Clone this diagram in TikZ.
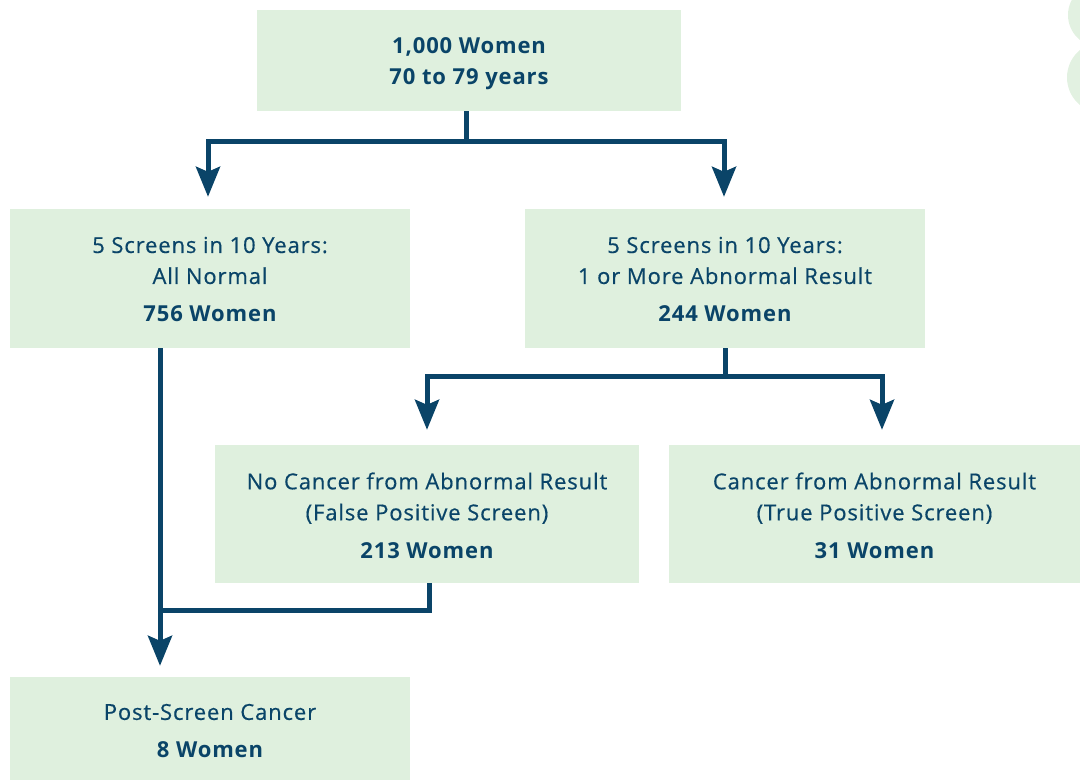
\documentclass[tikz,border=0pt]{standalone}
\usepackage{fontspec}
\setmainfont{Open Sans}[LetterSpace=4,UprightFeatures={FakeBold=0.5}]
\usetikzlibrary{arrows.meta}
\definecolor{boxfill}{RGB}{223,240,222}
\definecolor{deco}{RGB}{226,241,225}
\definecolor{ink}{RGB}{10,68,104}
\tikzset{
  box/.style={fill=boxfill, draw=none, inner sep=0pt},
  txt/.style={text=ink, align=center, inner sep=0pt,
    font=\fontsize{22}{31}\selectfont},
  conn/.style={draw=ink, line width=5pt},
  arr/.style={conn, -{Stealth[length=30pt,width=24pt,inset=5pt]}},
}
\begin{document}
\begin{tikzpicture}[x=1pt,y=-1pt]
\useasboundingbox (0,0) rectangle (1080,780);
\begin{scope}
\clip (0,0) rectangle (1080,780);
\fill[deco] (1100,15) circle (32);
\fill[deco] (1102.6,77.5) circle (35.6);
\end{scope}
\node[box, minimum width=424pt, minimum height=101pt,
  label={[txt, yshift=-3pt]center:{\bfseries 1,000 Women\\\bfseries 70 to 79 years}}] (top) at (469,60.5) {};
\node[box, minimum width=400pt, minimum height=139pt,
  label={[txt, yshift=-1pt]center:{5 Screens in 10 Years:\\All Normal\\[7pt]\bfseries 756 Women}}] (left) at (210,278.5) {};
\node[box, minimum width=400pt, minimum height=139pt,
  label={[txt, yshift=-1pt]center:{5 Screens in 10 Years:\\1 or More Abnormal Result\\[7pt]\bfseries 244 Women}}] (right) at (725,278.5) {};
\node[box, minimum width=424pt, minimum height=138pt,
  label={[txt, yshift=-1.5pt]center:{No Cancer from Abnormal Result\\(False Positive Screen)\\[7pt]\bfseries 213 Women}}] (midl) at (427,514) {};
\node[box, minimum width=411pt, minimum height=138pt,
  label={[txt, yshift=-1.5pt]center:{Cancer from Abnormal Result\\(True Positive Screen)\\[7pt]\bfseries 31 Women}}] (midr) at (874.5,514) {};
\node[box, minimum width=400pt, minimum height=103pt,
  label={[txt, yshift=-2.5pt]center:{Post-Screen Cancer\\[7pt]\bfseries 8 Women}}] (bot) at (210,728.5) {};
% connectors
\coordinate (j1) at (466,141);
\draw[conn] ([xshift=-3pt]top.south) -- (j1);
\draw[arr, shorten >=12pt] (j1) -| ([xshift=-2pt]left.north);
\draw[arr, shorten >=12pt] (j1) -| ([xshift=-1pt]right.north);
\coordinate (j2) at (725,376);
\draw[conn] (right.south) -- (j2);
\draw[arr, shorten >=15pt] (j2) -| (midl.north);
\draw[arr, shorten >=15pt] (j2) -| ([xshift=7.5pt]midr.north);
\coordinate (lv) at (160,348);
\coordinate (j3) at (160,610);
\draw[arr, shorten >=11pt] (lv) -- (bot.north -| lv);
\draw[conn] ([xshift=2pt]midl.south) |- (j3);
\end{tikzpicture}
\end{document}
